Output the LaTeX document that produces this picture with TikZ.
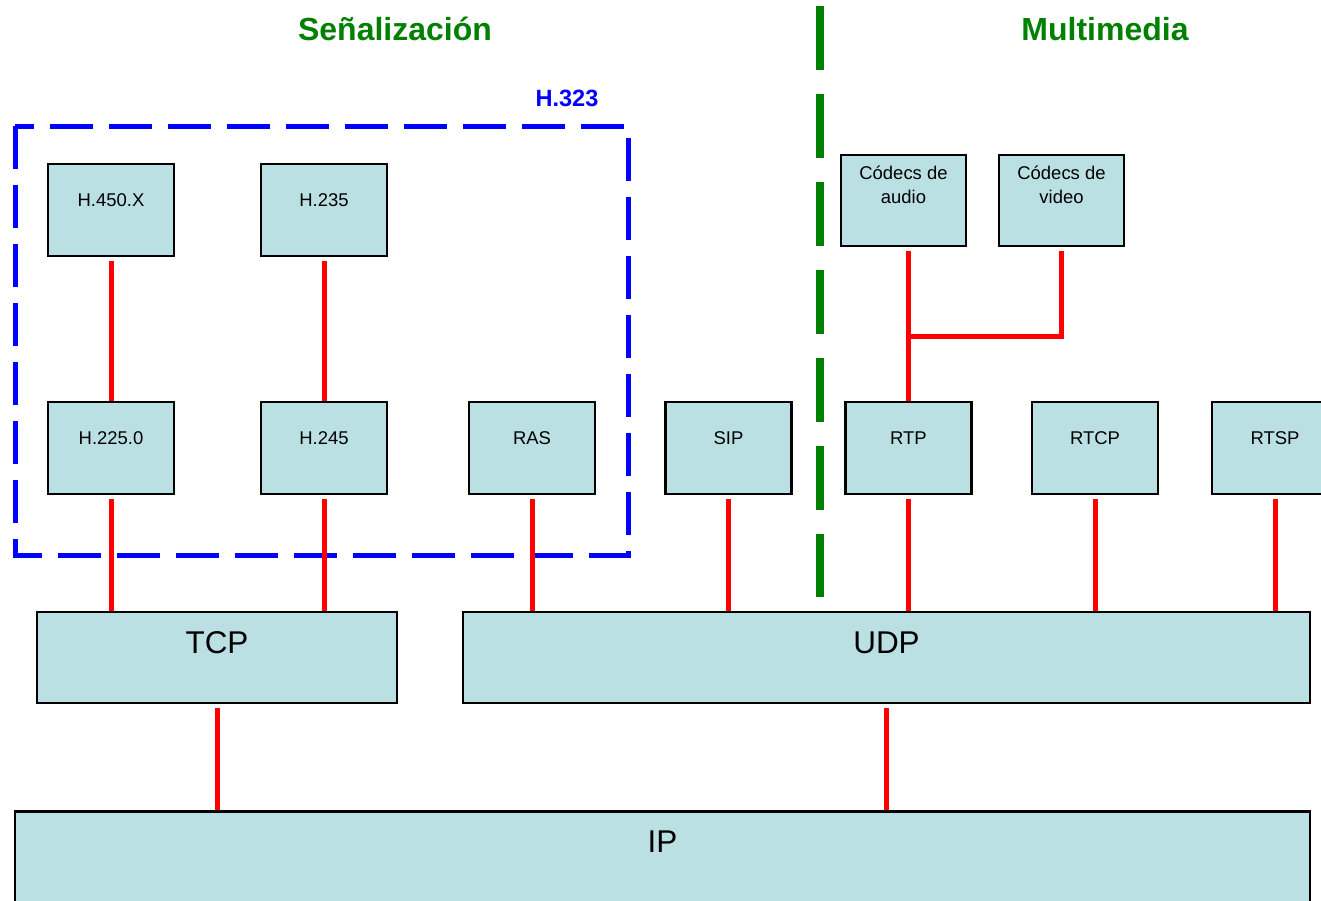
\documentclass[tikz,border=0pt]{standalone}
\usepackage{fontspec}
\setmainfont{Liberation Sans}
\usetikzlibrary{calc}
\definecolor{boxfill}{HTML}{BBE0E3}
\definecolor{sigreen}{HTML}{008000}

\begin{document}
\begin{tikzpicture}[x=0.2mm, y=-0.2mm,
	proto/.style={draw, line width=0.45mm, fill=boxfill, inner sep=0pt,
		minimum width=25.2mm, minimum height=18.4mm,
		font=\fontsize{10.5}{13.7}\selectfont, text height=2.6mm, text depth=4mm},
	codec/.style={proto, minimum width=25mm, minimum height=18.2mm, align=center,
		text height=1.6mm, text depth=0.4mm},
	layer/.style={proto, minimum height=18.2mm,
		font=\fontsize{17.9}{20}\selectfont, text height=4.5mm, text depth=6.2mm},
	link/.style={red, line width=1mm, shorten <=0.7mm},
	title/.style={font=\fontsize{18.2}{20}\selectfont\bfseries, text=sigreen}]
	\useasboundingbox (0,0) rectangle (1321,900);
	% headings
	\node[title] (senal) at (395,29) {Señalización};
	\node[title] (multi) at (1105,29) {Multimedia};
	\node[font=\fontsize{13.4}{15}\selectfont\bfseries, text=blue] (h323) at (567,98) {H.323};
	% H.323 frame and divider
	\draw[blue, line width=1mm, dash pattern=on 8.6mm off 3.2mm] (15,126) rectangle (628,555);
	\draw[sigreen, line width=1.6mm, dash pattern=on 12.8mm off 4.8mm] (820,6) -- (820,597);
	% upper row
	\node[proto] (h450) at (111,210) {H.450.X};
	\node[proto] (h235) at (324,210) {H.235};
	\node[codec] (audio) at (903.5,200.5) {Códecs de\\audio};
	\node[codec] (video) at (1061.5,200.5) {Códecs de\\video};
	% lower row
	\node[proto] (h2250) at (111,448) {H.225.0};
	\node[proto] (h245) at (324,448) {H.245};
	\node[proto] (ras) at (532,448) {RAS};
	\node[proto] (sip) at (728.5,448) {SIP};
	\node[proto] (rtp) at (908.5,448) {RTP};
	\node[proto] (rtcp) at (1095,448) {RTCP};
	\node[proto] (rtsp) at (1275,448) {RTSP};
	% transport and network
	\node[layer, minimum width=72mm] (tcp) at (217,657.5) {TCP};
	\node[layer, minimum width=169.4mm] (udp) at (886.5,657.5) {UDP};
	\node[layer, minimum width=259mm] (ip) at (662.5,857) {IP};
	% connections
	\draw[link] (h450.south) -- (h2250.north);
	\draw[link] (h235.south) -- (h245.north);
	\coordinate (merge) at (910,336);
	\draw[link] (rtp.north |- audio.south) -- (rtp.north);
	\draw[link] (video.south) |- (merge);
	\foreach \p in {h2250, h245}
		\draw[link] (\p.south) -- (\p.south |- tcp.north);
	\foreach \p in {ras, sip, rtp, rtcp, rtsp}
		\draw[link] (\p.south) -- (\p.south |- udp.north);
	\draw[link] (tcp.south) -- (tcp.south |- ip.north);
	\draw[link] (udp.south) -- (udp.south |- ip.north);
\end{tikzpicture}
\end{document}
